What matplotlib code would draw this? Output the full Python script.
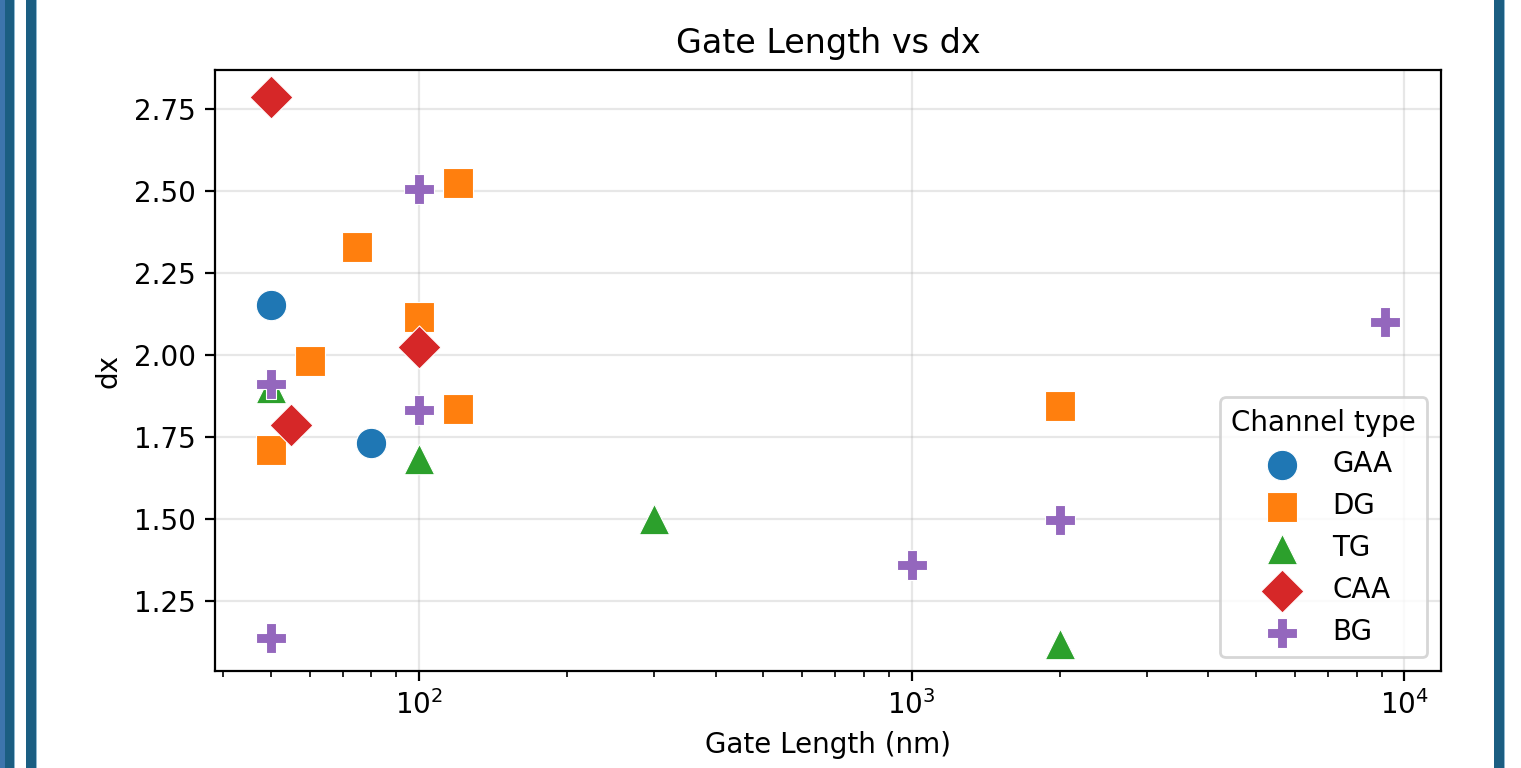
import matplotlib
matplotlib.use("Agg")
import matplotlib.pyplot as plt
from matplotlib.patches import Rectangle

# data
gaa_x = [50, 80]
gaa_y = [2.155, 1.733]

dg_x = [50, 60, 75, 100, 120, 120, 2000]
dg_y = [1.713, 1.982, 2.331, 2.118, 2.527, 1.836, 1.845]

tg_x = [50, 100, 300, 2000]
tg_y = [1.90, 1.684, 1.502, 1.121]

caa_x = [50, 55, 100]
caa_y = [2.787, 1.787, 2.027]

bg_x = [50, 50, 100, 100, 1000, 2000, 9150]
bg_y = [1.912, 1.137, 2.507, 1.833, 1.362, 1.499, 2.103]

series = [
    ("GAA", gaa_x, gaa_y, "o", "#1f77b4"),
    ("DG", dg_x, dg_y, "s", "#ff7f0e"),
    ("TG", tg_x, tg_y, "^", "#2ca02c"),
    ("CAA", caa_x, caa_y, "D", "#d62728"),
    ("BG", bg_x, bg_y, "P", "#9467bd"),
]

W, H = 1521, 768
fig = plt.figure(figsize=(W / 200, H / 200), dpi=200)
fig.subplots_adjust(left=215 / W, right=1441 / W, top=1 - 70 / H, bottom=1 - 671 / H)
ax = fig.add_subplot(111)

for name, xs, ys, m, c in series:
    ax.scatter(xs, ys, marker=m, color=c, s=120, edgecolors="white", linewidths=0.4, label=name, zorder=3)

ax.set_xscale("log")
ax.set_title("Gate Length vs dx")
ax.set_xlabel("Gate Length (nm)")
ax.set_ylabel("dx")
ax.grid(True, alpha=0.3)
ax.legend(title="Channel type", loc="lower right")

# side bars of the screenshot frame
dark = "#1b5e82"
light = "#8fb8d0"
for x0, x1, col in [(0, 5, "#3d75ad"), (5, 14, dark), (14, 15, light),
                    (26, 36, dark), (36, 37, light),
                    (1494, 1504, dark), (1504, 1505, light)]:
    fig.patches.append(Rectangle((x0 / W, 0), (x1 - x0) / W, 1, transform=fig.transFigure,
                                 facecolor=col, edgecolor="none", zorder=10))

fig.savefig("out.png", dpi=200)
